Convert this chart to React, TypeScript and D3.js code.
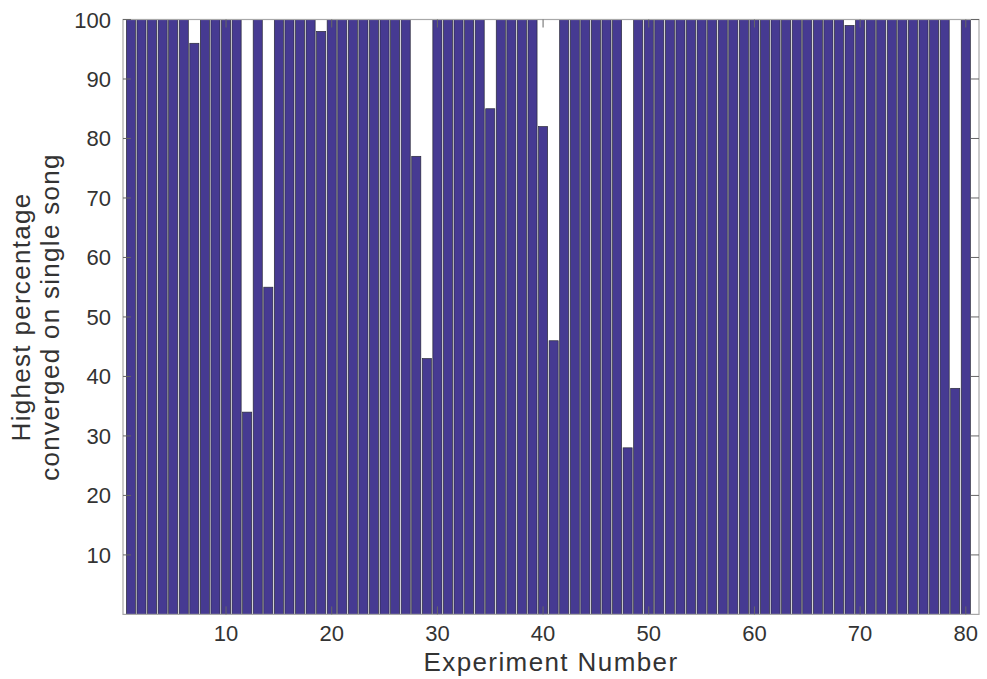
import React from "react";
import * as d3 from "d3";

const experiments: number[] = d3.range(1, 81);
const percentages: number[] = [
  100, 100, 100, 100, 100, 100, 96, 100, 100, 100,
  100, 34, 100, 55, 100, 100, 100, 100, 98, 100,
  100, 100, 100, 100, 100, 100, 100, 77, 43, 100,
  100, 100, 100, 100, 85, 100, 100, 100, 100, 82,
  46, 100, 100, 100, 100, 100, 100, 28, 100, 100,
  100, 100, 100, 100, 100, 100, 100, 100, 100, 100,
  100, 100, 100, 100, 100, 100, 100, 100, 99, 100,
  100, 100, 100, 100, 100, 100, 100, 100, 38, 100,
];
const xTicks: number[] = [10, 20, 30, 40, 50, 60, 70, 80];
const yTicks: number[] = [10, 20, 30, 40, 50, 60, 70, 80, 90, 100];
const xLabel = "Experiment Number";
const yLabelLines: string[] = ["Highest percentage", "converged on single song"];

const W = 987;
const H = 679;
const L = 123;
const R = 979;
const T = 19.5;
const B = 614.4;

export default function App() {
  const x = d3.scaleLinear().domain([0.25, 81.25]).range([L, R]);
  const y = d3.scaleLinear().domain([0, 100]).range([B, T]);
  const bw = x(0.86) - x(0);
  const font = "'Liberation Sans', Arial, Helvetica, sans-serif";
  const tickLen = 8;
  return (
    <svg width={W} height={H} style={{ position: "absolute", left: 0, top: 0, background: "#fff" }}>
      <rect x={0} y={0} width={W} height={H} fill="#fff" />
      {experiments.map((e, i) => (
        <rect
          key={e}
          x={x(e) - bw / 2}
          y={y(percentages[i])}
          width={bw}
          height={y(0) - y(percentages[i])}
          fill="#463a92"
          stroke="#2a2a3a"
          strokeWidth={0.7}
        />
      ))}
      <rect x={L} y={T} width={R - L} height={B - T} fill="none" stroke="#a8a8a8" strokeWidth={1.2} />
      {xTicks.map((t) => (
        <g key={"x" + t}>
          <line x1={x(t)} x2={x(t)} y1={B} y2={B - tickLen} stroke="#666" strokeWidth={1} />
          <line x1={x(t)} x2={x(t)} y1={T} y2={T + tickLen} stroke="#666" strokeWidth={1} />
          <text x={x(t)} y={641} textAnchor="middle" fontFamily={font} fontSize={22} fill="#333">
            {t}
          </text>
        </g>
      ))}
      {yTicks.map((t) => (
        <g key={"y" + t}>
          <line x1={L} x2={L + tickLen} y1={y(t)} y2={y(t)} stroke="#666" strokeWidth={1} />
          <line x1={R} x2={R - tickLen} y1={y(t)} y2={y(t)} stroke="#666" strokeWidth={1} />
          <text x={111} y={y(t) + 8} textAnchor="end" fontFamily={font} fontSize={22} fill="#333">
            {t}
          </text>
        </g>
      ))}
      <text x={(L + R) / 2} y={671} textAnchor="middle" fontFamily={font} fontSize={26} letterSpacing={1.4} fill="#333">
        {xLabel}
      </text>
      <g transform={`translate(0, ${(T + B) / 2}) rotate(-90)`}>
        {yLabelLines.map((s, i) => (
          <text key={s} x={0} y={30 + i * 28.5} textAnchor="middle" fontFamily={font} fontSize={26} letterSpacing={1.3} fill="#333">
            {s}
          </text>
        ))}
      </g>
    </svg>
  );
}
